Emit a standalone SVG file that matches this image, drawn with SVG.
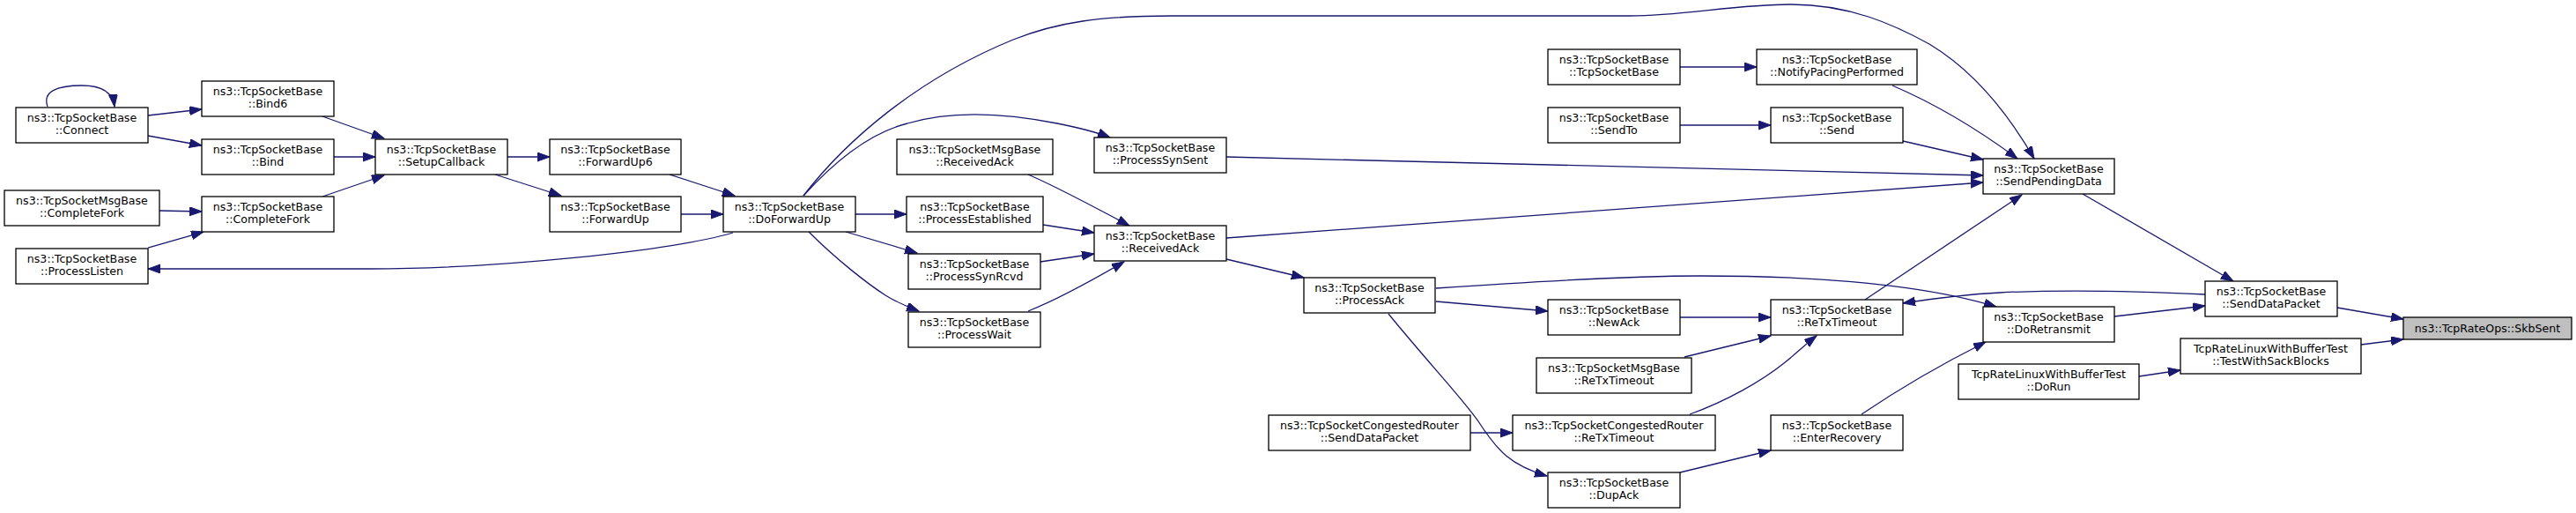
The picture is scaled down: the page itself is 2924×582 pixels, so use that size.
<svg xmlns="http://www.w3.org/2000/svg" width="2924" height="582" viewBox="0 0 2924 582">
<style>
.n rect{fill:#ffffff;stroke:#000000;stroke-width:1.3}
.n.root rect{fill:#bfbfbf}
text{font-family:"DejaVu Sans","Liberation Sans",sans-serif;font-size:12.6px;text-anchor:middle;fill:#000000}
.e path{fill:none;stroke:#191970;stroke-width:1.3;marker-end:url(#ah)}
</style>
<defs>
<marker id="ah" markerUnits="userSpaceOnUse" markerWidth="15" markerHeight="11" refX="14" refY="5" orient="auto">
<path d="M0,0 L14,5 L0,10 z" fill="#191970" stroke="#191970" stroke-width="1"/>
</marker>
</defs>
<rect width="2924" height="582" fill="#ffffff"/>
<g id="edges" class="e">
<path d="M54,121 C48,104 64,97 93,97 C115,97 128,104 130,121"/>
<path d="M168,131 L229,124"/>
<path d="M168,154 L229,165"/>
<path d="M181,239 L229,240"/>
<path d="M168,281 L231,263"/>
<path d="M832,264 C760,285 560,305 420,305 C330,305 240,305 168,305"/>
<path d="M366,132 L436,157"/>
<path d="M379,178 L426,178"/>
<path d="M366,223 L436,199"/>
<path d="M576,178 L624,178"/>
<path d="M562,198 L637,222"/>
<path d="M760,198 L834,222"/>
<path d="M773,243 L821,243"/>
<path d="M971,243 L1029,243"/>
<path d="M960,263 L1041,287"/>
<path d="M918,263 C950,295 985,322 1005,335 C1018,343 1030,348 1043,353"/>
<path d="M912,222 C950,180 990,150 1030,140 C1080,125 1140,128 1200,140 C1225,145 1245,150 1260,156"/>
<path d="M912,222 C960,160 1040,90 1150,45 C1200,25 1250,18 1330,18 L1850,18 C1910,18 1970,5 2033,5 C2100,5 2150,28 2190,50 C2240,80 2280,130 2309,180"/>
<path d="M1167,198 C1200,212 1240,234 1282,256"/>
<path d="M1184,255 L1242,264"/>
<path d="M1181,297 L1242,288"/>
<path d="M1167,353 C1200,340 1240,318 1276,297"/>
<path d="M1392,178 L2251,199"/>
<path d="M1392,270 L2251,207"/>
<path d="M1392,294 L1480,315"/>
<path d="M1630,327 C1760,318 1870,313 1930,313 C2060,313 2180,322 2266,348"/>
<path d="M1630,342 L1757,353"/>
<path d="M1576,356 C1620,410 1660,452 1678,478 C1700,512 1715,528 1756,540"/>
<path d="M1669,491 L1717,491"/>
<path d="M1907,360 L2010,360"/>
<path d="M1912,405 L2010,381"/>
<path d="M1918,470 C1960,455 2000,432 2025,412 C2040,400 2050,390 2062,381"/>
<path d="M1907,536 L2010,511"/>
<path d="M2117,340 L2295,221"/>
<path d="M2503,334 C2420,330 2330,329 2270,332 C2230,334 2200,338 2160,344"/>
<path d="M2113,470 C2150,445 2200,415 2254,388"/>
<path d="M1907,76 L1994,76"/>
<path d="M1907,142 L2010,142"/>
<path d="M2148,97 C2190,115 2240,143 2290,180"/>
<path d="M2160,160 L2251,181"/>
<path d="M2364,220 L2535,319"/>
<path d="M2400,359 L2503,347"/>
<path d="M2653,349 L2728,362"/>
<path d="M2680,391 L2728,385"/>
<path d="M2428,427 L2475,420"/>
</g>
<g id="connect" class="n"><rect x="18" y="122" width="150" height="40"/><text x="93" y="138">ns3::TcpSocketBase</text><text x="93" y="152">::Connect</text></g>
<g id="bind6" class="n"><rect x="229" y="92" width="150" height="40"/><text x="304" y="108">ns3::TcpSocketBase</text><text x="304" y="122">::Bind6</text></g>
<g id="bind" class="n"><rect x="229" y="158" width="150" height="40"/><text x="304" y="174">ns3::TcpSocketBase</text><text x="304" y="188">::Bind</text></g>
<g id="msgCompleteFork" class="n"><rect x="5" y="216" width="176" height="40"/><text x="93" y="232">ns3::TcpSocketMsgBase</text><text x="93" y="246">::CompleteFork</text></g>
<g id="completeFork" class="n"><rect x="229" y="223" width="150" height="40"/><text x="304" y="239">ns3::TcpSocketBase</text><text x="304" y="253">::CompleteFork</text></g>
<g id="processListen" class="n"><rect x="18" y="282" width="150" height="40"/><text x="93" y="298">ns3::TcpSocketBase</text><text x="93" y="312">::ProcessListen</text></g>
<g id="setupCallback" class="n"><rect x="426" y="158" width="150" height="40"/><text x="501" y="174">ns3::TcpSocketBase</text><text x="501" y="188">::SetupCallback</text></g>
<g id="forwardUp6" class="n"><rect x="624" y="158" width="149" height="40"/><text x="698.5" y="174">ns3::TcpSocketBase</text><text x="698.5" y="188">::ForwardUp6</text></g>
<g id="forwardUp" class="n"><rect x="624" y="223" width="149" height="40"/><text x="698.5" y="239">ns3::TcpSocketBase</text><text x="698.5" y="253">::ForwardUp</text></g>
<g id="doForwardUp" class="n"><rect x="821" y="223" width="150" height="40"/><text x="896" y="239">ns3::TcpSocketBase</text><text x="896" y="253">::DoForwardUp</text></g>
<g id="msgReceivedAck" class="n"><rect x="1018" y="158" width="177" height="40"/><text x="1106.5" y="174">ns3::TcpSocketMsgBase</text><text x="1106.5" y="188">::ReceivedAck</text></g>
<g id="processEstablished" class="n"><rect x="1029" y="223" width="155" height="40"/><text x="1106.5" y="239">ns3::TcpSocketBase</text><text x="1106.5" y="253">::ProcessEstablished</text></g>
<g id="processSynRcvd" class="n"><rect x="1031" y="288" width="150" height="40"/><text x="1106" y="304">ns3::TcpSocketBase</text><text x="1106" y="318">::ProcessSynRcvd</text></g>
<g id="processWait" class="n"><rect x="1031" y="354" width="150" height="40"/><text x="1106" y="370">ns3::TcpSocketBase</text><text x="1106" y="384">::ProcessWait</text></g>
<g id="processSynSent" class="n"><rect x="1242" y="156" width="150" height="40"/><text x="1317" y="172">ns3::TcpSocketBase</text><text x="1317" y="186">::ProcessSynSent</text></g>
<g id="receivedAck" class="n"><rect x="1242" y="256" width="150" height="40"/><text x="1317" y="272">ns3::TcpSocketBase</text><text x="1317" y="286">::ReceivedAck</text></g>
<g id="processAck" class="n"><rect x="1480" y="315" width="149" height="40"/><text x="1554.5" y="331">ns3::TcpSocketBase</text><text x="1554.5" y="345">::ProcessAck</text></g>
<g id="crSendDataPacket" class="n"><rect x="1440" y="471" width="229" height="40"/><text x="1554.5" y="487">ns3::TcpSocketCongestedRouter</text><text x="1554.5" y="501">::SendDataPacket</text></g>
<g id="tcpSocketBase" class="n"><rect x="1757" y="56" width="150" height="40"/><text x="1832" y="72">ns3::TcpSocketBase</text><text x="1832" y="86">::TcpSocketBase</text></g>
<g id="sendTo" class="n"><rect x="1757" y="122" width="150" height="40"/><text x="1832" y="138">ns3::TcpSocketBase</text><text x="1832" y="152">::SendTo</text></g>
<g id="newAck" class="n"><rect x="1757" y="340" width="150" height="40"/><text x="1832" y="356">ns3::TcpSocketBase</text><text x="1832" y="370">::NewAck</text></g>
<g id="msgReTxTimeout" class="n"><rect x="1744" y="406" width="176" height="40"/><text x="1832" y="422">ns3::TcpSocketMsgBase</text><text x="1832" y="436">::ReTxTimeout</text></g>
<g id="crReTxTimeout" class="n"><rect x="1717" y="471" width="230" height="40"/><text x="1832" y="487">ns3::TcpSocketCongestedRouter</text><text x="1832" y="501">::ReTxTimeout</text></g>
<g id="dupAck" class="n"><rect x="1757" y="536" width="150" height="40"/><text x="1832" y="552">ns3::TcpSocketBase</text><text x="1832" y="566">::DupAck</text></g>
<g id="notifyPacing" class="n"><rect x="1994" y="56" width="182" height="40"/><text x="2085" y="72">ns3::TcpSocketBase</text><text x="2085" y="86">::NotifyPacingPerformed</text></g>
<g id="send" class="n"><rect x="2010" y="122" width="150" height="40"/><text x="2085" y="138">ns3::TcpSocketBase</text><text x="2085" y="152">::Send</text></g>
<g id="reTxTimeout" class="n"><rect x="2010" y="340" width="150" height="40"/><text x="2085" y="356">ns3::TcpSocketBase</text><text x="2085" y="370">::ReTxTimeout</text></g>
<g id="enterRecovery" class="n"><rect x="2010" y="471" width="150" height="40"/><text x="2085" y="487">ns3::TcpSocketBase</text><text x="2085" y="501">::EnterRecovery</text></g>
<g id="sendPendingData" class="n"><rect x="2251" y="180" width="149" height="40"/><text x="2325.5" y="196">ns3::TcpSocketBase</text><text x="2325.5" y="210">::SendPendingData</text></g>
<g id="doRetransmit" class="n"><rect x="2251" y="348" width="149" height="40"/><text x="2325.5" y="364">ns3::TcpSocketBase</text><text x="2325.5" y="378">::DoRetransmit</text></g>
<g id="doRun" class="n"><rect x="2223" y="413" width="205" height="40"/><text x="2325.5" y="429">TcpRateLinuxWithBufferTest</text><text x="2325.5" y="443">::DoRun</text></g>
<g id="sendDataPacket" class="n"><rect x="2503" y="319" width="150" height="40"/><text x="2578" y="335">ns3::TcpSocketBase</text><text x="2578" y="349">::SendDataPacket</text></g>
<g id="testWithSackBlocks" class="n"><rect x="2475" y="384" width="205" height="40"/><text x="2577.5" y="400">TcpRateLinuxWithBufferTest</text><text x="2577.5" y="414">::TestWithSackBlocks</text></g>
<g id="skbSent" class="n root"><rect x="2728" y="360" width="191" height="25"/><text x="2823.5" y="376.5">ns3::TcpRateOps::SkbSent</text></g>
</svg>
